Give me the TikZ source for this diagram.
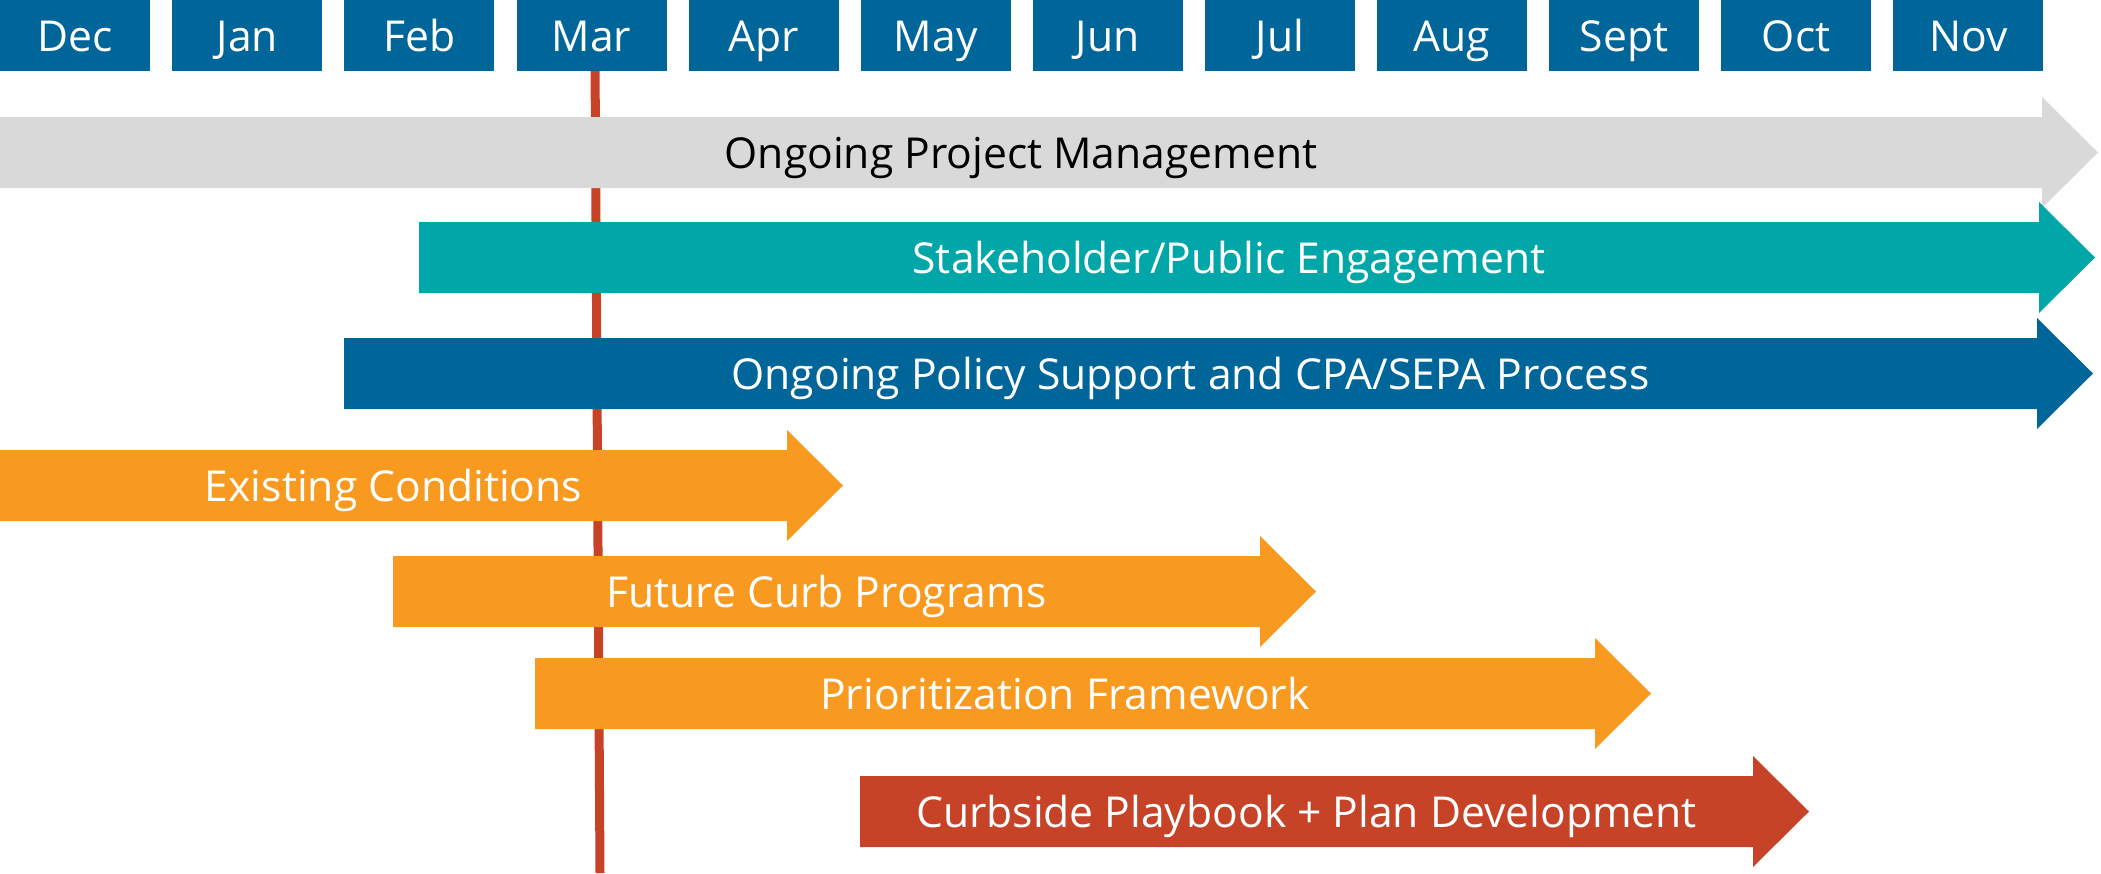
\documentclass[tikz,border=0pt]{standalone}
\usepackage{fontspec}
\setmainfont{Open Sans}

\definecolor{monthblue}{HTML}{00669A}
\definecolor{engageteal}{HTML}{00A6A8}
\definecolor{pmgray}{HTML}{D9D9D9}
\definecolor{taskorange}{HTML}{F89A1F}
\definecolor{todayred}{HTML}{C64328}

\tikzset{
	month/.style={fill=monthblue, text=white, anchor=north west, inner sep=0pt,
		minimum width=150, minimum height=71, text height=39, text depth=8},
	bartext/.style={inner sep=0pt, text height=39, text depth=8},
	todayline/.style={draw=todayred, line width=9pt},
}

\begin{document}
\begin{tikzpicture}[x=1pt, y=-1pt, font=\fontsize{42.6}{51}\selectfont]
	\useasboundingbox (0,0) rectangle (2101,873);
	\def\mgap{172.1}  % Horizontal step between month boxes
	\def\bh{71}       % Height of a bar shaft
	\def\hover{20}    % How far the arrow head sticks out of the shaft
	\def\hlen{56}     % Length of the arrow head
	
	% Current date line (behind everything)
	\coordinate (marTop) at (595,60);
	\coordinate (marBot) at (600,873);
	\draw[todayline] (marTop) -- (marBot);
	
	% Month header
	\foreach \m [count=\i from 0] in {Dec, Jan, Feb, Mar, Apr, May, Jun, Jul, Aug, Sept, Oct, Nov} {
		\node[month] (\m) at (\i*\mgap, 0) {\m};
	}
	
	% Bars: start/end of shaft, top of shaft, fill colour, text colour, label
	\foreach \xa/\xb/\ya/\col/\tcol/\txt [count=\k] in {
		0/2042/117/pmgray/black/{Ongoing Project Management},
		419/2039/222/engageteal/white/{Stakeholder/Public Engagement},
		344/2037/338/monthblue/white/{Ongoing Policy Support and CPA/SEPA Process},
		0/787/450/taskorange/white/{Existing Conditions},
		393/1260/556/taskorange/white/{Future Curb Programs},
		535/1595/658/taskorange/white/{Prioritization Framework},
		860/1753/776/todayred/white/{Curbside Playbook + Plan Development}} {
		\fill[\col] (\xa,\ya) -- (\xb,\ya) -- (\xb,\ya-\hover) -- (\xb+\hlen,\ya+\bh/2)
			-- (\xb,\ya+\bh+\hover) -- (\xb,\ya+\bh) -- (\xa,\ya+\bh) -- cycle;
		\node[bartext, text=\tcol] (bar\k) at ({(\xa+\xb)/2}, \ya+\bh/2) {\txt};
	}
\end{tikzpicture}
\end{document}
